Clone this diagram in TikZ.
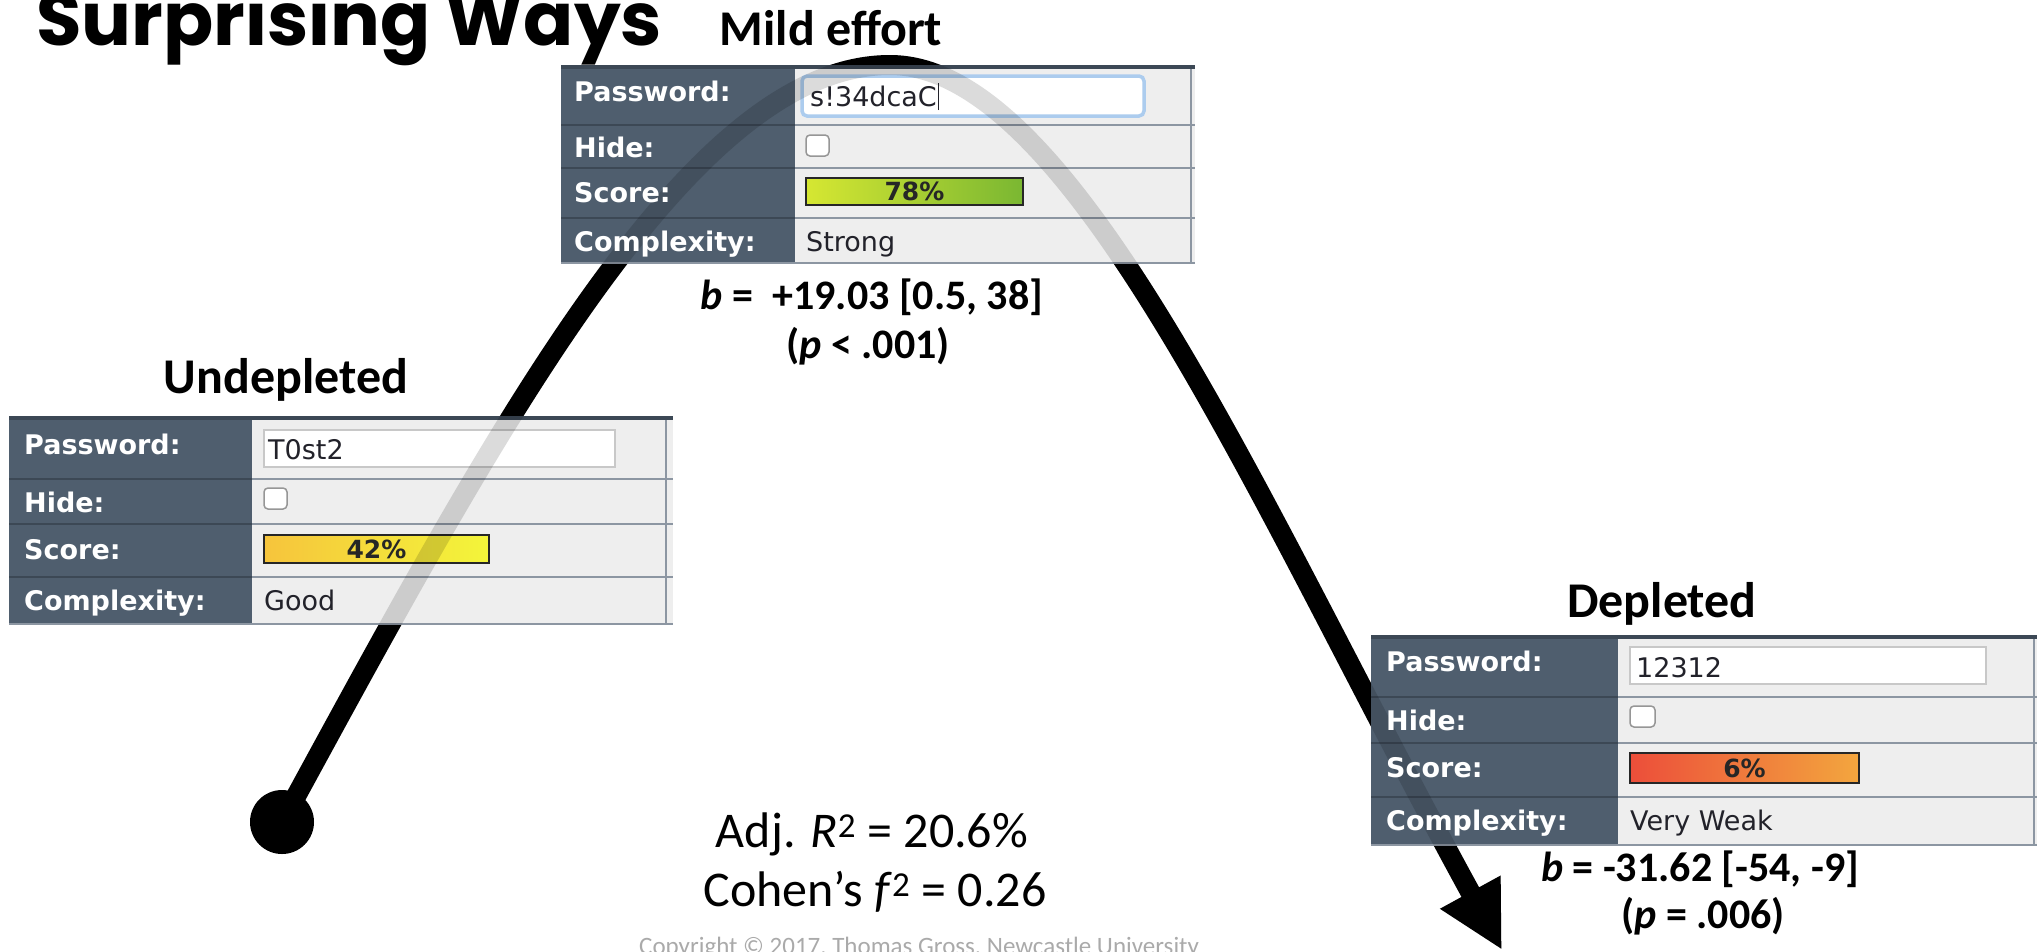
\documentclass[tikz,border=0pt]{standalone}
\usepackage{fontspec}
\setmainfont{Carlito}
\newfontfamily\webfont{DejaVu Sans}
\newfontfamily\titlefont{Poppins}
\usetikzlibrary{arrows.meta}
\definecolor{slate}{RGB}{79,94,110}
\definecolor{slatedark}{RGB}{60,72,85}
\definecolor{cellgray}{RGB}{238,238,238}
\definecolor{rowgray}{RGB}{140,150,162}
\definecolor{fieldgray}{RGB}{200,200,200}
\definecolor{focusblue}{RGB}{172,204,238}
\definecolor{boxgray}{RGB}{150,150,150}
\definecolor{valtext}{RGB}{34,34,42}
\definecolor{copygray}{RGB}{170,170,170}
\definecolor{limeA}{RGB}{214,231,50}
\definecolor{limeB}{RGB}{122,183,50}
\definecolor{goldA}{RGB}{246,196,60}
\definecolor{goldB}{RGB}{243,245,58}
\definecolor{redA}{RGB}{236,78,58}
\definecolor{redM}{RGB}{238,96,60}
\definecolor{redB}{RGB}{243,166,62}
\begin{document}
\begin{tikzpicture}[x=1pt,y=1pt,yscale=-1,
  effortcurve/.style={line width=20pt,-{Triangle[length=66pt,width=64pt]}},
  startdot/.style={circle,fill=black,minimum size=64pt,inner sep=0pt},
  heading/.style={font=\fontsize{50}{60}\selectfont\bfseries,anchor=base,inner sep=0pt},
  stat/.style={font=\fontsize{42}{48}\selectfont\bfseries,anchor=base,inner sep=0pt},
  fitstat/.style={font=\fontsize{50}{59}\selectfont,anchor=base,inner sep=0pt},
  labelcol/.style={fill=slate},
  cellfill/.style={fill=cellgray},
  rowdark/.style={draw=slatedark,line width=2pt},
  rowlight/.style={draw=rowgray,line width=1.5pt},
  topedge/.style={draw=slatedark,line width=4pt},
  pwfield/.style={fill=white,draw=fieldgray,line width=1.5pt},
  checkbox/.style={fill=white,draw=boxgray,line width=1.5pt,rounded corners=4pt},
  scorebar/.style={draw=black!85,line width=1.5pt},
  pwlabel/.style={anchor=west,inner sep=0pt,text=white,font=\webfont\bfseries\fontsize{27}{27}\selectfont,text height=20pt,text depth=0pt},
  pwvalue/.style={anchor=west,inner sep=0pt,text=valtext,font=\webfont\fontsize{27}{27}\selectfont,text height=20pt,text depth=0pt},
  pcttext/.style={inner sep=0pt,text=black!85,font=\webfont\bfseries\fontsize{25}{25}\selectfont,text height=18pt,text depth=0pt}]
\useasboundingbox (0,0) rectangle (2037,951);
\clip (0,0) rectangle (2037,951);

% Text Node
\node[anchor=base west,inner sep=0pt,font=\titlefont\bfseries\fontsize{74}{80}\selectfont] (title) at (36,45) {Surprising Ways};

%Curve Lines
\node[startdot] (start) at (282,822) {};
\coordinate (peak) at (890,65);
\coordinate (tip) at (1502,950);
\draw[effortcurve] (start.center) .. controls (497,427) and (690,65) .. (peak) .. controls (1075,65) and (1262,512) .. (tip);

%Shape: Panel Mild effort
\fill[cellfill] (561,65) rectangle (1195,263);
\fill[labelcol] (561,65) rectangle (795,263);
\draw[rowdark] (561,125) -- (795,125) (561,168) -- (795,168) (561,218) -- (795,218);
\draw[rowlight] (795,125) -- (1195,125) (795,168) -- (1195,168) (795,218) -- (1195,218) (1191,65) -- (1191,263);
\draw[topedge] (561,67) -- (1195,67);
\draw[rowlight] (561,263) -- (1195,263);
\draw[pwfield,draw=focusblue,line width=3.5pt,rounded corners=5pt] (802,76) rectangle (1144,116);
\draw[checkbox] (806,135) rectangle (829,156);
\draw[scorebar,left color=limeA,right color=limeB] (806,178) rectangle (1023,205);

%Shape: Panel Undepleted
\fill[cellfill] (9,416) rectangle (673,624);
\fill[labelcol] (9,416) rectangle (252,624);
\draw[rowdark] (9,479) -- (252,479) (9,524) -- (252,524) (9,577) -- (252,577);
\draw[rowlight] (252,479) -- (673,479) (252,524) -- (673,524) (252,577) -- (673,577) (666,416) -- (666,624);
\draw[topedge] (9,418) -- (673,418);
\draw[rowlight] (9,624) -- (673,624);
\draw[pwfield] (264,430) rectangle (615,467);
\draw[checkbox] (264,488) rectangle (287,509);
\draw[scorebar,left color=goldA,right color=goldB] (264,535) rectangle (489,563);

%Shape: Panel Depleted
\fill[cellfill] (1371,635) rectangle (2037,845);
\fill[labelcol] (1371,635) rectangle (1618,845);
\draw[rowdark] (1371,697) -- (1618,697) (1371,743) -- (1618,743) (1371,797) -- (1618,797);
\draw[rowlight] (1618,697) -- (2037,697) (1618,743) -- (2037,743) (1618,797) -- (2037,797) (2034,635) -- (2034,845);
\draw[topedge] (1371,637) -- (2037,637);
\draw[rowlight] (1371,845) -- (2037,845);
\draw[pwfield] (1630,647) rectangle (1986,684);
\draw[checkbox] (1630,706) rectangle (1655,727);
\draw[scorebar,left color=redA,middle color=redM,right color=redB] (1630,753) rectangle (1859,783);

%Curve Lines (seen through the panels)
\draw[effortcurve,opacity=0.14] (start.center) .. controls (497,427) and (690,65) .. (peak) .. controls (1075,65) and (1262,512) .. (tip);

% Text Node
\node[pwlabel] (mildpw) at (574,91) {Password:};
\node[pwlabel] (mildhide) at (574,147) {Hide:};
\node[pwlabel] (mildscore) at (574,192) {Score:};
\node[pwlabel] (mildcplx) at (574,241) {Complexity:};
\node[pwvalue] (mildfield) at (810,96) {s!34dcaC\kern1pt\rule[-4pt]{1.2pt}{27pt}};
\node[pcttext] (mildpct) at (914.5,191.5) {78\%};
\node[pwvalue] (mildval) at (806,241) {Strong};

% Text Node
\node[pwlabel] (undpw) at (24,444) {Password:};
\node[pwlabel] (undhide) at (24,502) {Hide:};
\node[pwlabel] (undscore) at (24,549) {Score:};
\node[pwlabel] (undcplx) at (24,600) {Complexity:};
\node[pwvalue] (undfield) at (268,449) {T0st2};
\node[pcttext] (undpct) at (376.5,549) {42\%};
\node[pwvalue] (undval) at (264,600) {Good};

% Text Node
\node[pwlabel] (deppw) at (1386,661) {Password:};
\node[pwlabel] (dephide) at (1386,720) {Hide:};
\node[pwlabel] (depscore) at (1386,767) {Score:};
\node[pwlabel] (depcplx) at (1386,820) {Complexity:};
\node[pwvalue] (depfield) at (1636,667) {12312};
\node[pcttext] (deppct) at (1744.5,768) {6\%};
\node[pwvalue] (depval) at (1630,820) {Very Weak};

% Text Node
\node[heading] (mildhead) at (831,45) {Mild effort};
\node[heading] (undhead) at (286,393) {Undepleted};
\node[heading] (dephead) at (1662,617) {Depleted};

% Text Node
\node[stat] (mildb) at (872,309) {\textit{b} = \ +19.03 [0.5, 38]};
\node[stat] (mildp) at (868,358) {(\textit{p} < .001)};
\node[stat] (depb) at (1700,881) {\textit{b} = -31.62 [-54, -9]};
\node[stat] (depp) at (1703,928) {(\textit{p} = .006)};

% Text Node
\node[fitstat] (adjr) at (872,847) {Adj. \textit{R}\textsuperscript{2} = 20.6\%};
\node[fitstat] (cohen) at (875,906) {Cohen’s \textit{f}\textsuperscript{2} = 0.26};
\node[anchor=base west,inner sep=0pt,text=copygray,font=\fontsize{25}{30}\selectfont] (copyright) at (639,954) {Copyright © 2017, Thomas Gross, Newcastle University};
\end{tikzpicture}
\end{document}
